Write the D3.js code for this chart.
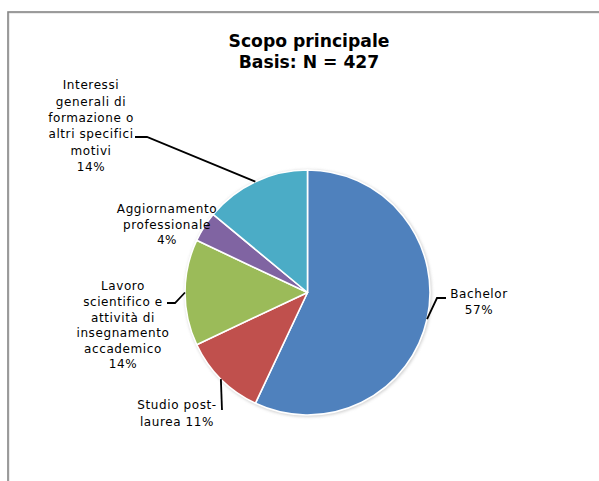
<!DOCTYPE html>
<html>
<head>
<meta charset="utf-8">
<script src="https://cdn.jsdelivr.net/npm/d3@7"></script>
<style>
  html, body { margin: 0; padding: 0; background: #fff; }
  svg { display: block; }
</style>
</head>
<body>
<svg id="chart" width="599" height="481"></svg>
<script>
// ---- data ----
const titleLines = ["Scopo principale", "Basis: N = 427"];
const categories = [
  "Bachelor",
  "Studio post-laurea",
  "Lavoro scientifico e attività di insegnamento accademico",
  "Aggiornamento professionale",
  "Interessi generali di formazione o altri specifici motivi"
];
const percentages = [57, 11, 14, 4, 14];
const colors = ["#4F81BD", "#C0504D", "#9BBB59", "#8064A2", "#4BACC6"];

// ---- layout (label lines, positions, leader elbows) ----
const labelLines = [
  ["Bachelor"],
  ["Studio post-", "laurea"],
  ["Lavoro", "scientifico e", "attività di", "insegnamento", "accademico"],
  ["Aggiornamento", "professionale"],
  ["Interessi", "generali di", "formazione o", "altri specifici", "motivi"]
];
const labelPos = [
  {x: 479, y: 294, lh: 16},
  {x: 177, y: 405, lh: 16.5},
  {x: 123, y: 286, lh: 15.6},
  {x: 167, y: 209, lh: 15.5},
  {x: 91, y: 85, lh: 16.3}
];
// leader polylines: points after the slice-edge anchor
const leaders = [
  [[437, 298], [446, 298]],
  [[222, 410]],
  [[175, 303], [167, 303]],
  null,
  [[147, 137], [135, 137]]
];

const svg = d3.select("#chart");
const W = 599, H = 481;
const cx = 307.5, cy = 292.5, R = 122.5;

// frame
svg.append("rect").attr("x", 9).attr("y", 13).attr("width", W + 20).attr("height", H + 20)
  .attr("fill", "none").attr("stroke", "#d9d9d9").attr("stroke-width", 1);
svg.append("rect").attr("x", 8).attr("y", 12).attr("width", W + 20).attr("height", H + 20)
  .attr("fill", "none").attr("stroke", "#868686").attr("stroke-width", 1.6);

// title
const title = svg.append("text")
  .attr("x", 309).attr("text-anchor", "middle")
  .style("font-family", "'DejaVu Sans', Verdana, sans-serif")
  .style("font-weight", "bold").style("font-size", "17.2px")
  .attr("fill", "#000");
titleLines.forEach((t, i) => {
  title.append("tspan").attr("x", 309).attr("y", 47 + i * 21).text(t);
});

// defs: shadow
const defs = svg.append("defs");
const f = defs.append("filter").attr("id", "sh").attr("x", "-20%").attr("y", "-20%")
  .attr("width", "140%").attr("height", "140%");
f.append("feGaussianBlur").attr("stdDeviation", 1.5);

const g = svg.append("g").attr("transform", `translate(${cx},${cy})`);
g.append("circle").attr("cx", 0.8).attr("cy", 0.8).attr("r", R + 1)
  .attr("fill", "#bdbdbd").attr("filter", "url(#sh)").attr("opacity", 0.7);

const pie = d3.pie().sort(null).value(d => d);
const arcs = pie(percentages);
const arc = d3.arc().innerRadius(0).outerRadius(R);
const edgeArc = d3.arc().innerRadius(R).outerRadius(R);

g.selectAll("path.slice").data(arcs).join("path")
  .attr("class", "slice")
  .attr("d", arc)
  .attr("fill", (d, i) => colors[i])
  .attr("stroke", "#fff").attr("stroke-width", 1.6).attr("stroke-linejoin", "round");

// leaders
arcs.forEach((d, i) => {
  if (!leaders[i]) return;
  const c = edgeArc.centroid(d);
  const pts = [[cx + c[0], cy + c[1]], ...leaders[i]];
  svg.append("path")
    .attr("d", d3.line()(pts))
    .attr("fill", "none").attr("stroke", "#000").attr("stroke-width", 1.8);
});

// labels
arcs.forEach((d, i) => {
  const p = labelPos[i];
  const lines = labelLines[i].slice();
  const pct = percentages[i] + "%";
  if (i === 1) lines[lines.length - 1] += " " + pct; else lines.push(pct);
  const t = svg.append("text").attr("text-anchor", "middle")
    .style("font-family", "'DejaVu Sans', Verdana, sans-serif")
    .style("font-size", "12px").style("letter-spacing", "0.6px")
    .attr("fill", "#000");
  lines.forEach((s, k) => {
    t.append("tspan").attr("x", p.x).attr("y", p.y + 4.3 + k * p.lh).text(s);
  });
});
</script>
</body>
</html>
